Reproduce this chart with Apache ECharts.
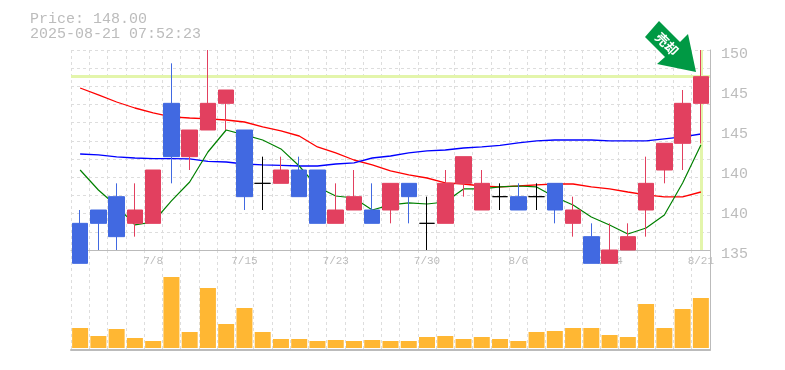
<!DOCTYPE html>
<html>
<head>
<meta charset="utf-8">
<style>
html,body{margin:0;padding:0;background:#fff;}
#chart{width:785px;height:370px;}
</style>
<script src="https://cdn.jsdelivr.net/npm/echarts@6/dist/echarts.min.js"></script>
</head>
<body>
<div id="chart"></div>
<script>
var dates = ['7/2','7/3','7/4','7/7','7/8','7/9','7/10','7/11','7/14','7/15','7/16','7/17','7/18','7/22','7/23','7/24','7/25','7/28','7/29','7/30','7/31','8/1','8/4','8/5','8/6','8/7','8/8','8/12','8/13','8/14','8/15','8/18','8/19','8/20','8/21'];

// open, close, low, high
var candles = [
	[137,134,134,138],[138,137,135,138],[139,136,135,140],[137,138,136,140],[137,141,137,141],
	[146,142,140,149],[142,144,141,144],[144,146,144,150],[146,147,144,147],[144,139,138,144],
	[140,140,138,142],[140,141,140,142],[141,139,139,142],[141,137,137,141],[137,138,137,140],
	[138,139,138,141],[138,137,137,140],[138,140,137,140],[140,139,137,140],[137,137,135,139],
	[137,140,137,141],[140,142,139,142],[138,140,138,141],[139,139,138,140],[139,138,138,140],
	[139,139,138,140],[140,138,137,140],[137,138,136,139],[136,134,134,137],[134,135,134,137],
	[135,136,135,137],[138,140,136,142],[141,143,140,143],[143,146,141,147],[146,148,143,150]
];
var maRed = [147.15,146.63,146.1,145.65,145.28,144.98,144.9,144.83,144.75,144.6,144.23,143.93,143.55,142.73,142.28,141.75,141.38,140.93,140.63,140.4,140.03,139.95,139.8,139.73,139.8,139.88,139.95,139.95,139.73,139.58,139.35,139.13,138.98,138.98,139.35];
var maBlue = [142.2,142.13,141.98,141.9,141.86,141.86,141.83,141.64,141.6,141.45,141.38,141.34,141.3,141.3,141.45,141.53,141.9,142.05,142.28,142.43,142.5,142.65,142.73,142.84,143.03,143.18,143.25,143.25,143.25,143.18,143.18,143.18,143.33,143.48,143.7];
var maGreen = [141,139.5,138.3,136.88,137.1,138.68,140.1,142.35,144,143.63,143.25,142.58,141.3,139.73,139.05,138.9,138,138.38,138.53,138.45,138.6,139.58,139.58,139.73,139.8,139.73,138.98,138.38,137.48,136.88,136.2,136.65,137.63,140.03,142.88];
var volumes = [20,12,19,10,7,71,16,60,24,40,16,9,9,7,8,7,8,7,7,11,12,9,11,9,7,16,17,20,20,13,11,44,20,39,50];
var priceLabels = ['135','140','140','145','145','150'];
var lastPrice = 148;
var lastDate = '8/21';
var titleLines = ['Price: 148.00','2025-08-21 07:52:23'];

var gridColor = '#ddd';
var axisColor = '#bbb';
var textColor = '#bcbcbc';
var monoFont = '"Liberation Mono", monospace';

var myChart = echarts.init(document.getElementById('chart'), null, {renderer:'canvas'});

function splitX(){
	return {show:true, interval:0, lineStyle:{color:gridColor, type:[3,3], width:1}};
}

var option = {
	animation:false,
	backgroundColor:'#fff',
	grid:[
		{left:71, width:639, top:50, height:200},
		{left:71, width:639, top:250, height:100}
	],
	xAxis:[
		{
			type:'category', gridIndex:0, data:dates,
			axisLine:{onZero:false, lineStyle:{color:axisColor, width:1}},
			axisTick:{show:false},
			axisLabel:{
				color:textColor, fontFamily:monoFont, fontSize:11, margin:6,
				interval:function(i){return i % 5 === 4;}
			},
			splitLine:splitX()
		},
		{
			type:'category', gridIndex:1, data:dates,
			axisLine:{onZero:false, lineStyle:{color:axisColor, width:2}},
			axisTick:{show:false},
			axisLabel:{show:false},
			splitLine:splitX()
		}
	],
	yAxis:[
		{
			type:'value', gridIndex:0, position:'right', min:135, max:150, interval:15/11,
			axisLine:{show:true, lineStyle:{color:axisColor}},
			axisTick:{show:false},
			axisLabel:{show:false},
			splitLine:{show:true, lineStyle:{color:gridColor, type:[3,3], width:1}}
		},
		{
			type:'value', gridIndex:0, position:'right', min:135, max:150, interval:3,
			axisLine:{show:false},
			axisTick:{show:false},
			splitLine:{show:false},
			axisLabel:{
				color:textColor, fontFamily:monoFont, fontSize:15, margin:11,
				verticalAlign:'top', lineHeight:8,
				formatter:function(v){return priceLabels[Math.round((v - 135) / 3)];}
			}
		},
		{
			type:'value', gridIndex:1, position:'right', min:-2, max:98,
			axisLine:{show:true, lineStyle:{color:axisColor}},
			axisTick:{show:false},
			axisLabel:{show:false},
			splitLine:{show:false}
		}
	],
	graphic:[
		{
			type:'text', left:30, top:12, z:10,
			style:{text:titleLines[0], font:'15px '+monoFont, fill:textColor}
		},
		{
			type:'text', left:30, top:27, z:10,
			style:{text:titleLines[1], font:'15px '+monoFont, fill:textColor}
		},
		{
			type:'polygon', z:10,
			shape:{points:[[659,21],[680,42],[688,34],[696,72],[657,64],[665,57],[645,37]]},
			style:{fill:'#009944'}
		},
		{
			type:'text', z:11, x:667, y:44, rotation:-Math.PI/4,
			style:{text:'売却', font:'bold 13px "Noto Sans CJK JP"', fill:'#fff', align:'center', verticalAlign:'middle'}
		}
	],
	series:[
		{
			// highlight of the last price and date
			type:'line', xAxisIndex:0, yAxisIndex:0, data:[], z:1, silent:true,
			markLine:{
				z:1, symbol:'none', silent:true, label:{show:false}, animation:false,
				lineStyle:{color:'#e3f5ab', type:'solid', width:3},
				data:[{yAxis:lastPrice},{xAxis:lastDate}]
			}
		},
		{name:'ma1', type:'line', xAxisIndex:0, yAxisIndex:0, data:maRed, symbol:'none', z:2, lineStyle:{color:'#f00', width:1.3}},
		{name:'ma2', type:'line', xAxisIndex:0, yAxisIndex:0, data:maBlue, symbol:'none', z:2, lineStyle:{color:'#00f', width:1.3}},
		{name:'ma3', type:'line', xAxisIndex:0, yAxisIndex:0, data:maGreen, symbol:'none', z:2, lineStyle:{color:'#008000', width:1.2}},
		{
			name:'price', type:'candlestick', xAxisIndex:0, yAxisIndex:0, data:candles,
			barWidth:16, clip:false, z:3,
			itemStyle:{
				color:'#e2405f', color0:'#4169e1',
				borderColor:'#e2405f', borderColor0:'#4169e1',
				borderColorDoji:'#000', borderWidth:1
			}
		},
		{
			name:'volume', type:'bar', xAxisIndex:1, yAxisIndex:2, data:volumes,
			barWidth:16, itemStyle:{color:'#ffb733'}, z:2
		}
	]
};
myChart.setOption(option);
</script>
</body>
</html>
